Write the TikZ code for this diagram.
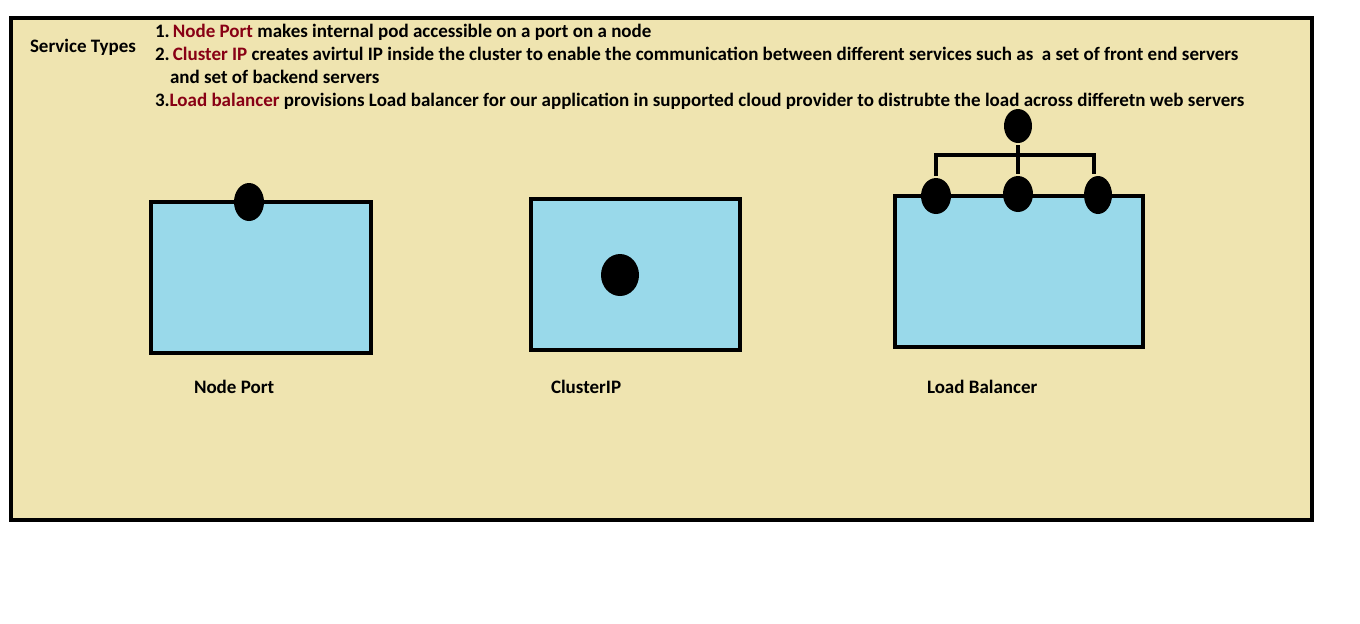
\documentclass[tikz,border=0pt]{standalone}
\usepackage{fontspec}
\setmainfont{Carlito}
\usetikzlibrary{shapes.geometric}
\definecolor{fond}{RGB}{239,228,176}
\definecolor{boite}{RGB}{153,217,234}
\definecolor{rouge}{RGB}{136,0,21}

\begin{document}
\begin{tikzpicture}[x=0.5pt,y=-0.5pt,line width=2pt,
   texte/.style={anchor=base west,inner sep=0pt,font=\fontsize{9.5}{11}\selectfont\bfseries},
   service/.style={draw,fill=boite,line width=2pt},
   port/.style={ellipse,fill=black,inner sep=0pt}]

  \useasboundingbox (0,0) rectangle (1360,623);
  \draw[fill=fond] (11,18) rectangle (1312,520);

  \node[texte](titre) at (28,52) {Service Types};
  \node[texte](l1) at (153,37) {1.\,\textcolor{rouge}{Node Port} makes internal pod accessible on a port on a node};
  \node[texte](l2) at (153,60) {2.\,\textcolor{rouge}{Cluster IP} creates avirtul IP inside the cluster to enable the communication between different services such as\ \ a set of front end servers};
  \node[texte](l2b) at (168,83) {and set of backend servers};
  \node[texte](l3) at (153,106) {3.\textcolor{rouge}{Load balancer} provisions Load balancer for our application in supported cloud provider to distrubte the load across differetn web servers};

  % node port
  \draw[service] (151,202) rectangle (371,353);
  \node[port,minimum width=15pt,minimum height=19pt](np) at (249,202) {};
  \node[texte](npl) at (192,393) {Node Port};

  % cluster ip
  \draw[service] (531,199) rectangle (740,350);
  \node[port,minimum width=19pt,minimum height=21pt](cip) at (620,275) {};
  \node[texte](cipl) at (549,393) {ClusterIP};

  % load balancer
  \draw[service] (895,196) rectangle (1143,347);
  \coordinate (barre) at (1018,155);
  \node[port,minimum width=14pt,minimum height=17pt](lbh) at (1018,126) {};
  \node[port,minimum width=15pt,minimum height=18pt](lbg) at (936,196) {};
  \node[port,minimum width=15pt,minimum height=18pt](lbm) at (1018,194) {};
  \node[port,minimum width=14pt,minimum height=19pt](lbd) at (1098,195) {};
  \draw (lbh) -- (lbm);
  \draw (lbg) |- (barre) -| ([xshift=-2pt]lbd.north);
  \node[texte](lbl) at (925,393) {Load Balancer};
\end{tikzpicture}
\end{document}
